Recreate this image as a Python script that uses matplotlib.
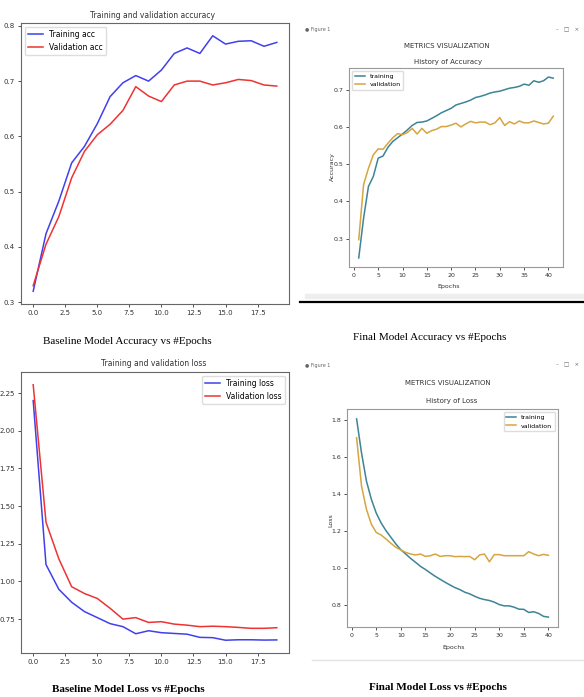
import matplotlib
matplotlib.use("Agg")
import matplotlib.pyplot as plt
import numpy as np

plt.rcParams['font.family'] = ['Liberation Sans Narrow', 'DejaVu Sans']

# baseline model, 20 epochs
base_epochs = list(range(20))
base_train_acc = [0.32, 0.424, 0.483, 0.552, 0.582, 0.623, 0.672, 0.697, 0.71, 0.70,
                  0.72, 0.75, 0.76, 0.75, 0.782, 0.767, 0.772, 0.773, 0.763, 0.77]
base_val_acc = [0.33, 0.405, 0.455, 0.525, 0.573, 0.603, 0.622, 0.647, 0.69, 0.673,
                0.663, 0.693, 0.70, 0.70, 0.693, 0.697, 0.703, 0.701, 0.693, 0.691]
base_train_loss = [2.20, 1.112, 0.948, 0.862, 0.80, 0.76, 0.72, 0.70, 0.653, 0.673,
                   0.66, 0.655, 0.65, 0.629, 0.627, 0.61, 0.613, 0.613, 0.611, 0.612]
base_val_loss = [2.305, 1.393, 1.15, 0.965, 0.92, 0.887, 0.822, 0.75, 0.76, 0.728,
                 0.733, 0.717, 0.71, 0.70, 0.703, 0.70, 0.695, 0.689, 0.689, 0.693]

# final model
final_acc_epochs = list(range(1, 42))
final_train_acc = [0.248, 0.355, 0.44, 0.467, 0.516, 0.522, 0.545, 0.561, 0.571, 0.581,
                   0.592, 0.604, 0.612, 0.613, 0.616, 0.623, 0.630, 0.638, 0.644, 0.65,
                   0.659, 0.663, 0.667, 0.672, 0.679, 0.682, 0.686, 0.691, 0.694, 0.696,
                   0.70, 0.704, 0.706, 0.709, 0.715, 0.712, 0.724, 0.72, 0.724, 0.734, 0.731]
final_val_acc = [0.297, 0.445, 0.489, 0.525, 0.541, 0.54, 0.556, 0.571, 0.582, 0.579,
                 0.585, 0.596, 0.581, 0.596, 0.583, 0.59, 0.594, 0.601, 0.601, 0.605,
                 0.61, 0.60, 0.608, 0.615, 0.611, 0.613, 0.613, 0.606, 0.611, 0.625,
                 0.604, 0.614, 0.608, 0.616, 0.611, 0.611, 0.616, 0.612, 0.608, 0.61, 0.629]
final_loss_epochs = list(range(1, 41))
final_train_loss = [1.807, 1.623, 1.47, 1.371, 1.296, 1.242, 1.20, 1.164, 1.128, 1.097,
                    1.074, 1.05, 1.029, 1.007, 0.99, 0.971, 0.953, 0.937, 0.921, 0.906,
                    0.892, 0.881, 0.867, 0.858, 0.845, 0.834, 0.827, 0.822, 0.813, 0.80,
                    0.793, 0.793, 0.786, 0.775, 0.774, 0.757, 0.761, 0.752, 0.736, 0.732]
final_val_loss = [1.705, 1.443, 1.317, 1.236, 1.191, 1.177, 1.155, 1.132, 1.11, 1.096,
                  1.083, 1.074, 1.069, 1.074, 1.061, 1.065, 1.074, 1.061, 1.065, 1.065,
                  1.06, 1.061, 1.06, 1.061, 1.043, 1.069, 1.074, 1.032, 1.071, 1.071,
                  1.065, 1.065, 1.065, 1.065, 1.065, 1.087, 1.074, 1.065, 1.072, 1.067]

W, H = 584, 697
fig = plt.figure(figsize=(W / 100, H / 100), dpi=100)


def box(l, t, r, b):
    # pixel box -> figure fraction
    return [l / W, 1 - b / H, (r - l) / W, (b - t) / H]


def ftext(x, y, s, **kw):
    fig.text(x / W, 1 - y / H, s, ha='center', va='center', **kw)


def style(ax, spine_col, size=5, pad=2):
    for sp in ax.spines.values():
        sp.set_color(spine_col)
        sp.set_linewidth(0.8)
    ax.tick_params(labelsize=size, length=2.5, width=0.6, pad=pad, colors='#333333')


# ---- baseline accuracy
ax1 = fig.add_axes(box(21, 23, 289, 304))
ax1.plot(base_epochs, base_train_acc, color='#4040ee', lw=1.1, label='Training acc')
ax1.plot(base_epochs, base_val_acc, color='#ee3333', lw=1.1, label='Validation acc')
ax1.set_yticks([0.3, 0.4, 0.5, 0.6, 0.7, 0.8])
style(ax1, '#666666')
ax1.legend(loc='upper left', fontsize=5.5, handlelength=2, framealpha=1, edgecolor='#dddddd')
ftext(153, 15, 'Training and validation accuracy', fontsize=5.5, color='#333333')

# ---- baseline loss
ax2 = fig.add_axes(box(21, 372, 289, 653))
ax2.plot(base_epochs, base_train_loss, color='#4040ee', lw=1.1, label='Training loss')
ax2.plot(base_epochs, base_val_loss, color='#ee3333', lw=1.1, label='Validation loss')
ax2.set_yticks([0.75, 1.0, 1.25, 1.5, 1.75, 2.0, 2.25])
style(ax2, '#666666')
ax2.legend(loc='upper right', fontsize=5.5, handlelength=2, framealpha=1, edgecolor='#dddddd')
ftext(154, 364, 'Training and validation loss', fontsize=5.5, color='#333333')

teal = '#3d8496'
gold = '#d6a540'

# ---- final accuracy (window screenshot)
ax3 = fig.add_axes(box(349, 68, 563, 267))
ax3.plot(final_acc_epochs, final_train_acc, color=teal, lw=1.1, label='training')
ax3.plot(final_acc_epochs, final_val_acc, color=gold, lw=1.1, label='validation')
ax3.set_xticks(range(0, 45, 5))
ax3.set_yticks([0.3, 0.4, 0.5, 0.6, 0.7])
style(ax3, '#999999', size=4.5, pad=1.5)
ax3.legend(loc='upper left', fontsize=4.5, handlelength=1.6, framealpha=1, edgecolor='#dddddd')
ftext(332, 167, 'Accuracy', fontsize=4.5, rotation=90, color='#333333')
ftext(449, 286, 'Epochs', fontsize=4.5, color='#333333')
ftext(447, 46, 'METRICS VISUALIZATION', fontsize=5, color='#333333')
ftext(448, 62, 'History of Accuracy', fontsize=5, color='#333333')
ftext(318, 30, '\u25cf Figure 1', fontsize=3.5, color='#666666')
ftext(568, 30, '\u2013   \u25a1   \u00d7', fontsize=4, color='#666666')
fig.patches.append(plt.Rectangle((305 / W, 1 - 298 / H), 279 / W, 4 / H,
                                 transform=fig.transFigure, color='#eeeeee', zorder=0))
fig.lines.append(plt.Line2D([300 / W, 1], [1 - 302 / H, 1 - 302 / H],
                            transform=fig.transFigure, color='black', lw=1.6))

# ---- final loss (window screenshot)
ax4 = fig.add_axes(box(347, 409, 558, 627))
ax4.plot(final_loss_epochs, final_train_loss, color=teal, lw=1.1, label='training')
ax4.plot(final_loss_epochs, final_val_loss, color=gold, lw=1.1, label='validation')
ax4.set_xticks(range(0, 45, 5))
ax4.set_yticks([0.8, 1.0, 1.2, 1.4, 1.6, 1.8])
style(ax4, '#999999', size=4.5, pad=1.5)
ax4.legend(loc='upper right', fontsize=4.5, handlelength=1.6, framealpha=1, edgecolor='#dddddd')
ftext(331, 520, 'Loss', fontsize=4.5, rotation=90, color='#333333')
ftext(454, 648, 'Epochs', fontsize=4.5, color='#333333')
ftext(448, 383, 'METRICS VISUALIZATION', fontsize=5, color='#333333')
ftext(452, 401, 'History of Loss', fontsize=5, color='#333333')
ftext(318, 365, '\u25cf Figure 1', fontsize=3.5, color='#666666')
ftext(568, 365, '\u2013   \u25a1   \u00d7', fontsize=4, color='#666666')
fig.lines.append(plt.Line2D([312 / W, 1], [1 - 660 / H, 1 - 660 / H],
                            transform=fig.transFigure, color='#e4e4e4', lw=1.0))

# ---- captions
serif = ['Liberation Serif', 'DejaVu Serif']
ftext(127, 341, 'Baseline Model Accuracy vs #Epochs', fontsize=8, family=serif)
ftext(430, 338, 'Final Model Accuracy vs #Epochs', fontsize=8, family=serif)
ftext(128, 690, 'Baseline Model Loss vs #Epochs', fontsize=8, family=serif, weight='bold')
ftext(438, 687, 'Final Model Loss vs #Epochs', fontsize=8, family=serif, weight='bold')

fig.savefig('out.png', dpi=100)
